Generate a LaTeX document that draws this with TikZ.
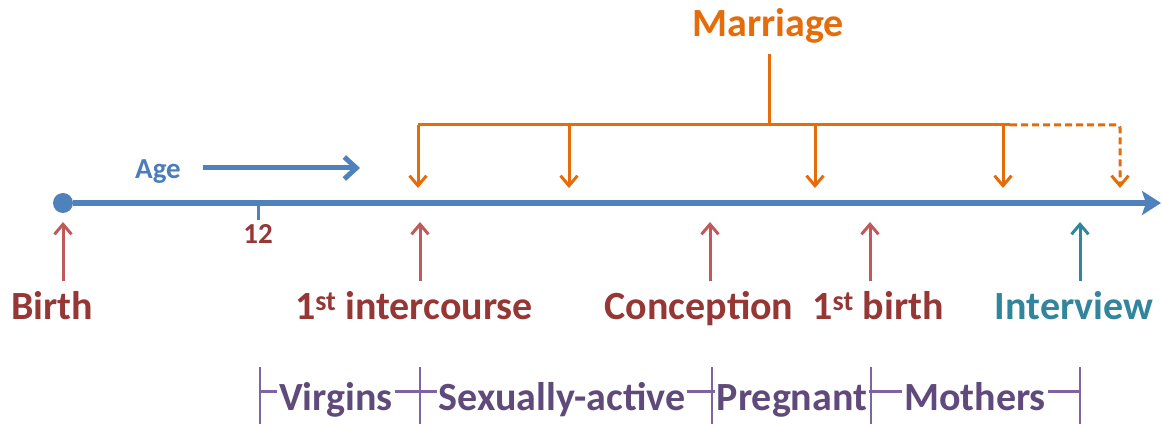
\documentclass[tikz,border=0pt]{standalone}
\usepackage{fontspec}
\setmainfont{Carlito}
\usepackage{tikz}
\usetikzlibrary{arrows.meta,positioning}
\definecolor{lineblue}{HTML}{4F81BD}
\definecolor{agetext}{HTML}{4A7EBB}
\definecolor{evtred}{HTML}{953735}
\definecolor{arrred}{HTML}{BE5A5A}
\definecolor{evtteal}{HTML}{31859C}
\definecolor{mrgorange}{HTML}{E46C0A}
\definecolor{phasetext}{HTML}{604A7B}
\definecolor{phaseline}{HTML}{8064A2}

\begin{document}
\begin{tikzpicture}[x=1pt,y=-1pt,
	bignode/.style={font=\bfseries\fontsize{40}{40}\selectfont,anchor=base,inner sep=0pt},
	smallnode/.style={font=\bfseries\fontsize{29}{29}\selectfont,anchor=base,inner sep=0pt},
	upnode/.style={line width=3pt,-{Straight Barb[length=10pt,width=17pt]}},
	downnode/.style={draw=mrgorange,line width=3pt,-{Straight Barb[length=10pt,width=17pt]}},
	phasenode/.style={bignode,text=phasetext,fill=white,inner xsep=2pt}]
	
	\useasboundingbox (0,0) rectangle (1162,427);
	
	% time line
	\node [circle,fill=lineblue,inner sep=0pt,minimum size=20pt] (0) at (63,203) {};
	\coordinate (0e) at (1161,203);
	\draw [lineblue,line width=6pt,-{Stealth[length=19pt,width=24pt,inset=4pt]}] (0) -- (0e);
	\coordinate (t1) at (258,203);
	\coordinate (t2) at (258,220);
	\draw [lineblue,line width=3pt] (t1) -- (t2);
	\node [smallnode,text=evtred] (12) at (258,244) {12};
	
	\node [smallnode,text=agetext] (age) at (158,179) {Age};
	\coordinate (age1) at (203,168);
	\coordinate (age2) at (360,168);
	\draw [lineblue,line width=5pt,-{Straight Barb[length=12pt,width=22pt]}] (age1) -- (age2);
	
	% events
	\node [bignode,text=evtred] (1) at (52,320) {Birth};
	\node [bignode,text=evtred] (2) at (414,320) {1\textsuperscript{st} intercourse};
	\node [bignode,text=evtred] (3) at (699,320) {Conception};
	\node [bignode,text=evtred] (4) at (878,320) {1\textsuperscript{st} birth};
	\node [bignode,text=evtteal] (5) at (1074,320) {Interview};
	
	\coordinate (1a) at (63,281);	\coordinate (1b) at (63,222);
	\coordinate (2a) at (420,281);	\coordinate (2b) at (420,222);
	\coordinate (3a) at (710,281);	\coordinate (3b) at (710,222);
	\coordinate (4a) at (870,281);	\coordinate (4b) at (870,222);
	\coordinate (5a) at (1080,281);	\coordinate (5b) at (1080,222);
	
	\draw [upnode,arrred] (1a) to (1b);
	\draw [upnode,arrred] (2a) to (2b);
	\draw [upnode,arrred] (3a) to (3b);
	\draw [upnode,arrred] (4a) to (4b);
	\draw [upnode,evtteal] (5a) to (5b);
	
	% marriage
	\node [bignode,text=mrgorange] (m) at (768,37) {Marriage};
	\coordinate (m0) at (769,54);
	\coordinate (m1) at (769,125);
	\coordinate (ml) at (418,125);
	\coordinate (mr) at (1010,125);
	\coordinate (md) at (1120,125);
	\coordinate (me) at (1120,188);
	\draw [mrgorange,line width=3pt] (m0) -- (m1);
	\draw [mrgorange,line width=3pt] (ml) -- (mr);
	\draw [mrgorange,line width=3pt,dash pattern=on 7pt off 4pt,rounded corners=3pt,-{Straight Barb[length=10pt,width=17pt]}] (mr) -- (md) -- (me);
	
	\foreach \x in {418,569,815,1003} {
		\coordinate (a\x) at (\x,125);
		\coordinate (b\x) at (\x,188);
		\draw [downnode] (a\x) to (b\x);
	}
	
	% phases
	\coordinate (pl) at (260,392);
	\coordinate (pr) at (1080,392);
	\draw [phaseline,line width=3pt] (pl) -- (pr);
	\foreach \x in {260,420,712,871,1080} {
		\coordinate (u\x) at (\x,367);
		\coordinate (v\x) at (\x,424);
		\draw [phaseline,line width=2pt] (u\x) -- (v\x);
	}
	\node [phasenode] (p1) at (336,410) {Virgins};
	\node [phasenode] (p2) at (562,410) {Sexually-active};
	\node [phasenode] (p3) at (792,410) {Pregnant};
	\node [phasenode] (p4) at (975,410) {Mothers};
\end{tikzpicture}
\end{document}
